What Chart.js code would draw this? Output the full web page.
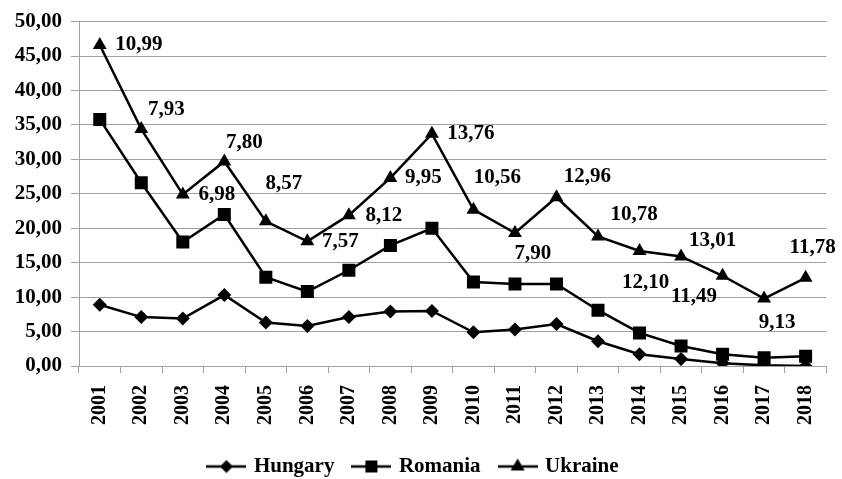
<!DOCTYPE html>
<html><head><meta charset="utf-8">
<script src="https://cdn.jsdelivr.net/npm/chart.js@4/dist/chart.umd.min.js"></script>
<style>html,body{margin:0;padding:0;background:#fff;} canvas{display:block;}</style>
</head><body>
<canvas id="c" width="842" height="479"></canvas>
<script>
const years = ['2001','2002','2003','2004','2005','2006','2007','2008','2009','2010','2011','2012','2013','2014','2015','2016','2017','2018'];
const hungary = [8.9,7.1,6.9,10.3,6.3,5.8,7.1,7.9,8.0,4.9,5.3,6.1,3.6,1.7,1.0,0.4,0.1,0.0];
const romania = [35.8,26.6,18.0,22.0,12.9,10.8,13.9,17.5,20.0,12.2,11.9,11.9,8.1,4.8,2.9,1.7,1.2,1.4];
const ukraine = [46.6,34.4,24.9,29.7,21.0,18.1,21.9,27.3,33.7,22.7,19.3,24.5,18.8,16.7,15.9,13.1,9.8,12.8];
const ukraineLabels = ['10,99','7,93','6,98','7,80','8,57','7,57','8,12','9,95','13,76','10,56','7,90','12,96','10,78','12,10','11,49','13,01','9,13','11,78'];
const seriesNames = ['Hungary','Romania','Ukraine'];

// label placement offsets (style, px relative to point)
const labelOffsets = [[39,0],[25,-19],[34,0],[20,-19],[18,-38],[33,0],[35,0],[33,0],[39,0],[24,-32],[18,21],[31,-21],[36,-22],[6,32],[13,40],[-10,-35],[13,24],[7,-30]];

const FONT = '"Liberation Serif", "Times New Roman", serif';
const GRID = '#a0a0a0';

function makeIcon(kind){
  const cv = document.createElement('canvas');
  cv.width = 40; cv.height = 20;
  const g = cv.getContext('2d');
  g.strokeStyle = '#000'; g.lineWidth = 2.5;
  g.beginPath(); g.moveTo(0,10); g.lineTo(40,10); g.stroke();
  g.fillStyle = '#000'; g.beginPath();
  if (kind === 'diamond') { g.moveTo(20,3.5); g.lineTo(26.5,10); g.lineTo(20,16.5); g.lineTo(13.5,10); }
  else if (kind === 'square') { g.rect(14,4,12,12); }
  else { g.moveTo(20,2); g.lineTo(27,14); g.lineTo(13,14); }
  g.closePath(); g.fill();
  return cv;
}
const legendIcons = [makeIcon('diamond'), makeIcon('square'), makeIcon('triangle')];

const labelPlugin = {
  id: 'ukraineLabels',
  afterDatasetsDraw(chart){
    const meta = chart.getDatasetMeta(2);
    const ctx = chart.ctx;
    ctx.save();
    ctx.font = 'bold 21px ' + FONT;
    ctx.fillStyle = '#000';
    ctx.textAlign = 'center';
    ctx.textBaseline = 'middle';
    meta.data.forEach((pt, i) => {
      const o = labelOffsets[i];
      ctx.fillText(ukraineLabels[i], pt.x + o[0], pt.y + o[1]);
    });
    ctx.restore();
  }
};

const common = {borderColor:'#000', backgroundColor:'#000', borderWidth:2.5, pointBackgroundColor:'#000', pointBorderColor:'#000', pointBorderWidth:0, tension:0, fill:false};

new Chart(document.getElementById('c'), {
  type: 'line',
  data: {
    labels: years,
    datasets: [
      Object.assign({label: seriesNames[0], data: hungary, pointStyle:'rectRot', pointRadius:7}, common),
      Object.assign({label: seriesNames[1], data: romania, pointStyle:'rect', pointRadius:9.2}, common),
      Object.assign({label: seriesNames[2], data: ukraine, pointStyle:'triangle', pointRadius:8}, common)
    ]
  },
  options: {
    responsive: false,
    animation: false,
    layout: {padding: {top: 18, right: 14, bottom: -8, left: 0}},
    plugins: {
      tooltip: {enabled: false},
      legend: {
        position: 'bottom',
        labels: {
          usePointStyle: true,
          pointStyleWidth: 34,
          padding: 20,
          color: '#000',
          font: {family: FONT, size: 21, weight: 'bold'},
          generateLabels(chart){
            const items = Chart.defaults.plugins.legend.labels.generateLabels(chart);
            items.forEach((it, i) => { it.pointStyle = legendIcons[i]; });
            return items;
          }
        }
      }
    },
    scales: {
      x: {
        offset: true,
        grid: {offset: true, drawOnChartArea: false, drawTicks: true, tickLength: 7, color: GRID},
        border: {display: true, color: GRID, width: 1},
        ticks: {minRotation: 90, maxRotation: 90, padding: 12, color: '#000', font: {family: FONT, size: 20, weight: 'bold'}},
        afterFit(s){ s.height = 70; }
      },
      y: {
        min: 0, max: 50,
        ticks: {stepSize: 5, padding: 9, color: '#000', font: {family: FONT, size: 21, weight: 'bold'},
          callback: v => Number(v).toFixed(2).replace('.', ',')},
        grid: {color: GRID, tickLength: 8, drawTicks: true},
        border: {display: true, color: GRID, width: 1},
        afterFit(s){ s.width = 79; }
      }
    }
  },
  plugins: [labelPlugin]
});
</script>
</body></html>
